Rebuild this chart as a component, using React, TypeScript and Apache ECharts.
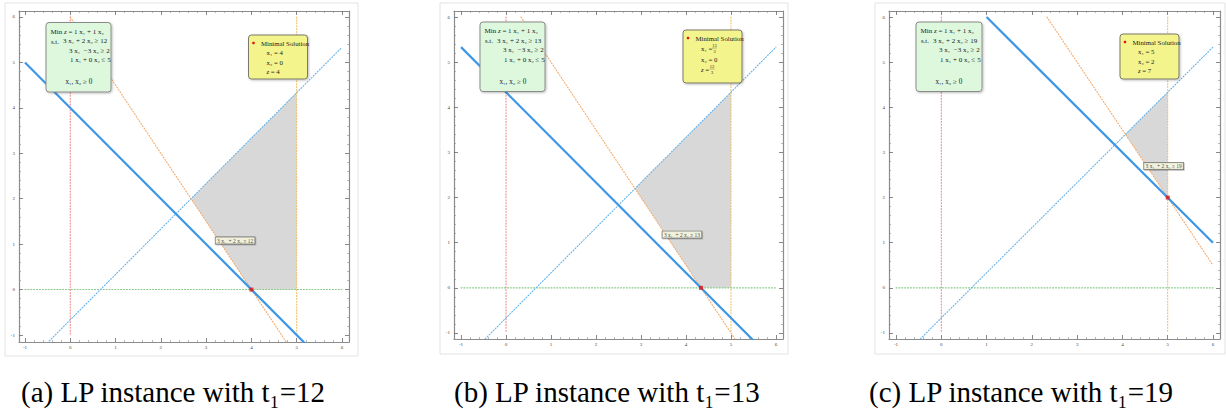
import React, { useEffect, useRef } from "react";
import * as echarts from "echarts";

// ---------------- data ----------------
const majorTicks = [-1, 0, 1, 2, 3, 4, 5, 6];
const tValues = [12, 13, 19];
const captions = [
  "(a) LP instance with t₁=12",
  "(b) LP instance with t₁=13",
  "(c) LP instance with t₁=19",
];

// objective line x1 + x2 = z*
const objectiveLines = [
  [[-1, 5], [6.2, -2.2]],
  [[-1, 5.3333], [6.2, -1.8667]],
  [[1, 6], [6, 1]],
];
// constraint 3x1 + 2x2 = t1
const constraintLines = [
  [[0, 6], [5.2, -1.8]],
  [[0.3333, 6], [5.4, -1.6]],
  [[2.3333, 6], [6, 0.5]],
];
// constraint 3x1 - 3x2 = 2
const diagLine = [[-0.6, -1.2667], [6, 5.3333]];
// x1 = 0, x1 = 5, x2 = 0
const x1ZeroLine = [[0, 6], [0, -1]];
const x1FiveLine = [[5, 6], [5, -1]];
const x2ZeroLine = [[-1, 0], [6, 0]];

// feasible regions
const regions = [
  [[2.6667, 2], [5, 4.3333], [5, 0], [4, 0]],
  [[2.8667, 2.2], [5, 4.3333], [5, 0], [4.3333, 0]],
  [[4.0667, 3.4], [5, 4.3333], [5, 2]],
];
// optimal points
const optima = [[4, 0], [4.3333, 0], [5, 2]];
// constraint label anchor points
const labelPoints = [[3.64, 1.08], [3.91, 1.18], [4.91, 2.7]];

// solution texts
const solX1 = ["4", "13/3", "5"];
const solX2 = ["0", "0", "2"];
const solZ = ["4", "13/3", "7"];

// ---------------- layout ----------------
const xRanges = [[-1.132, 6.155], [-1.156, 6.156], [-1.155, 6.155]];
const yRanges = [[-1.154, 6.132], [-1.133, 6.133], [-1.133, 6.133]];
const gridRects = [[19, 11, 330, 331], [454, 11, 329, 328], [889, 11, 331, 328]];
const outerFrames = [[5, 3, 353, 353], [440, 3, 348, 351], [875, 3, 350, 351]];
const captionX = [21, 454, 869];
const greenBoxes = [[27, 11.5, 65, 69.5], [26, 11, 65, 69.5], [27, 11, 66, 69.5]];
const yellowBoxes = [[229.5, 24, 59, 44], [229, 19, 59, 53], [231, 23, 59, 45]];

const minorTicks: number[] = [];
for (let k = -5; k <= 30; k++) if (k % 5 !== 0) minorTicks.push(k / 5);

const FONT = "Liberation Serif";

function buildOption() {
  const grids: any[] = [];
  const xAxes: any[] = [];
  const yAxes: any[] = [];
  const series: any[] = [];
  const graphics: any[] = [];

  const frame = { show: true, onZero: false, lineStyle: { color: "#8c8c8c", width: 1.2 } };
  const noLine = { show: false, onZero: false };

  for (let i = 0; i < 3; i++) {
    const [gl, gt, gw, gh] = gridRects[i];
    for (let g = 0; g < 2; g++) {
      grids.push({ left: gl, top: gt, width: gw, height: gh, outerBoundsMode: "none", containLabel: false });
    }
    const [xmin, xmax] = xRanges[i];
    const [ymin, ymax] = yRanges[i];
    const base = { type: "value", splitLine: { show: false }, scale: false };
    const majTick = { show: true, inside: true, length: 4, customValues: majorTicks, lineStyle: { color: "#6a6a6a", width: 0.8 } };
    const minTick = { show: true, inside: true, length: 2, customValues: minorTicks, lineStyle: { color: "#8a8a8a", width: 0.6 } };
    const lbl = { show: true, customValues: majorTicks, fontSize: 5, color: "#444", fontFamily: FONT, margin: 3 };
    xAxes.push({ ...base, gridIndex: 2 * i, min: xmin, max: xmax, position: "bottom", axisLine: frame, axisTick: majTick, axisLabel: lbl });
    xAxes.push({ ...base, gridIndex: 2 * i, min: xmin, max: xmax, position: "top", axisLine: frame, axisTick: majTick, axisLabel: { show: false } });
    xAxes.push({ ...base, gridIndex: 2 * i + 1, min: xmin, max: xmax, position: "bottom", axisLine: noLine, axisTick: minTick, axisLabel: { show: false } });
    xAxes.push({ ...base, gridIndex: 2 * i + 1, min: xmin, max: xmax, position: "top", axisLine: noLine, axisTick: minTick, axisLabel: { show: false } });
    yAxes.push({ ...base, gridIndex: 2 * i, min: ymin, max: ymax, position: "left", axisLine: frame, axisTick: majTick, axisLabel: { ...lbl, margin: 4 } });
    yAxes.push({ ...base, gridIndex: 2 * i, min: ymin, max: ymax, position: "right", axisLine: frame, axisTick: majTick, axisLabel: { show: false } });
    yAxes.push({ ...base, gridIndex: 2 * i + 1, min: ymin, max: ymax, position: "left", axisLine: noLine, axisTick: minTick, axisLabel: { show: false } });
    yAxes.push({ ...base, gridIndex: 2 * i + 1, min: ymin, max: ymax, position: "right", axisLine: noLine, axisTick: minTick, axisLabel: { show: false } });

    const ax = { xAxisIndex: 4 * i, yAxisIndex: 4 * i };
    const region = regions[i];
    series.push({
      type: "custom", ...ax, z: 1, silent: true, clip: true,
      data: [region[0]],
      renderItem: (_p: any, api: any) => ({
        type: "polygon",
        shape: { points: region.map((p) => api.coord(p)) },
        style: { fill: "#d8d8d8" },
      }),
    });
    const dotted = (data: number[][], color: string) => ({
      type: "line", ...ax, data, symbol: "none", silent: true, z: 2, clip: true,
      lineStyle: { color, width: 1.1, type: [1, 1.9], cap: "round" },
    });
    series.push(dotted(x1ZeroLine, "#f08a8a"));
    series.push(dotted(x1FiveLine, "#efc060"));
    series.push(dotted(x2ZeroLine, "#86c886"));
    series.push(dotted(diagLine, "#62b2ea"));
    series.push(dotted(constraintLines[i], "#f3aa6a"));
    series.push({
      type: "line", ...ax, data: objectiveLines[i], symbol: "none", silent: true, z: 3, clip: true,
      lineStyle: { color: "#3d97e6", width: 2.2 },
    });
    series.push({
      type: "scatter", ...ax, data: [optima[i]], symbol: "rect", symbolSize: 4, z: 5, silent: true,
      itemStyle: { color: "#e41010" },
    });
    series.push({
      type: "scatter", ...ax, data: [labelPoints[i]], symbolSize: 0, z: 6, silent: true,
      label: {
        show: true, position: "inside",
        formatter: `3 x₁  + 2 x₂ ≥ ${tValues[i]}`,
        fontSize: 5.5, fontFamily: FONT, color: "#222",
        backgroundColor: "#fbfbe2", borderColor: "#555", borderWidth: 0.7,
        padding: [0.5, 1.5, 0, 1.5],
        shadowColor: "rgba(0,0,0,0.3)", shadowOffsetX: 0.8, shadowOffsetY: 0.8, shadowBlur: 1,
      },
    });

    // outer frame
    const [fx, fy, fw, fh] = outerFrames[i];
    graphics.push({ type: "rect", shape: { x: fx, y: fy, width: fw, height: fh }, style: { fill: "none", stroke: "#e3e3e3", lineWidth: 1 }, z: 0, silent: true });

    // caption
    graphics.push({
      type: "text", x: captionX[i], y: 392, z: 20, silent: true,
      style: { text: captions[i], fontSize: 29, fontFamily: FONT, fill: "#000", verticalAlign: "middle" },
    });

    const txt = (x: number, y: number, text: string, size = 6.8, align = "left") => ({
      type: "text", x, y, z: 30, silent: true,
      style: {
        text, fontSize: size, fontFamily: FONT, fill: "#222", verticalAlign: "middle", align,
        rich: { i: { fontStyle: "italic", fontSize: size, fontFamily: FONT, fill: "#222" } },
      },
    });

    // green problem box
    const [bx, by, bw, bh] = greenBoxes[i];
    const X = gl + bx, Y = gt + by;
    graphics.push({
      type: "rect", z: 25, silent: true,
      shape: { x: X, y: Y, width: bw, height: bh, r: 3 },
      style: { fill: "#ddf8dd", stroke: "#8a8a8a", lineWidth: 1, shadowColor: "rgba(0,0,0,0.25)", shadowBlur: 2, shadowOffsetX: 1, shadowOffsetY: 1 },
    });
    graphics.push(txt(X + 4.5, Y + 9, "Min {i|z} = 1 x₁ + 1 x₂", 7));
    graphics.push(txt(X + 5, Y + 18.5, "s.t."));
    graphics.push(txt(X + 17, Y + 18.5, `3 x₁ + 2 x₂ ≥ ${tValues[i]}`, 7));
    graphics.push(txt(X + 23, Y + 28, "3 x₁  −3 x₂ ≥ 2", 7));
    graphics.push(txt(X + 24, Y + 37.5, "1 x₁ + 0 x₂ ≤ 5", 7));
    graphics.push(txt(X + 19.5, Y + 59.5, "x₁, x₂ ≥ 0", 7.2));

    // yellow solution box
    const [sx, sy, sw, sh] = yellowBoxes[i];
    const SX = gl + sx, SY = gt + sy;
    graphics.push({
      type: "rect", z: 25, silent: true,
      shape: { x: SX, y: SY, width: sw, height: sh, r: 3 },
      style: { fill: "#f4f48c", stroke: "#7a7a6a", lineWidth: 1, shadowColor: "rgba(0,0,0,0.25)", shadowBlur: 2, shadowOffsetX: 1, shadowOffsetY: 1 },
    });
    const frac = i === 1;
    const rows = frac ? [8, 18, 29, 39] : [8, 17.5, 27, 36.5];
    graphics.push({ type: "circle", z: 30, silent: true, shape: { cx: SX + 5, cy: SY + rows[0], r: 1.3 }, style: { fill: "#e41010" } });
    graphics.push(txt(SX + 12.5, SY + rows[0], "Minimal Solution"));
    const valueRow = (y: number, lhs: string, val: string) => {
      if (val.includes("/")) {
        const [num, den] = val.split("/");
        graphics.push(txt(SX + 18, y, lhs));
        const fxc = SX + 18 + (lhs.includes("z") ? 11 : 13.5);
        graphics.push(txt(fxc, y - 3, num, 4.3, "center"));
        graphics.push(txt(fxc, y + 3.2, den, 4.3, "center"));
        graphics.push({ type: "line", z: 30, silent: true, shape: { x1: fxc - 2.5, y1: y, x2: fxc + 2.5, y2: y }, style: { stroke: "#555", lineWidth: 0.4 } });
      } else {
        graphics.push(txt(SX + 18, y, `${lhs} ${val}`));
      }
    };
    valueRow(SY + rows[1], "x₁ =", solX1[i]);
    valueRow(SY + rows[2], "x₂ =", solX2[i]);
    valueRow(SY + rows[3], "{i|z} =", solZ[i]);
  }

  return {
    animation: false,
    backgroundColor: "#ffffff",
    grid: grids,
    xAxis: xAxes,
    yAxis: yAxes,
    series,
    graphic: graphics,
  };
}

export default function App() {
  const ref = useRef<HTMLDivElement>(null);
  useEffect(() => {
    if (!ref.current) return;
    const chart = echarts.init(ref.current, undefined, { renderer: "svg" });
    chart.setOption(buildOption() as any);
    return () => chart.dispose();
  }, []);
  return (
    <div
      ref={ref}
      style={{ position: "fixed", left: 0, top: 0, width: 1226, height: 409, background: "#fff" }}
    />
  );
}
